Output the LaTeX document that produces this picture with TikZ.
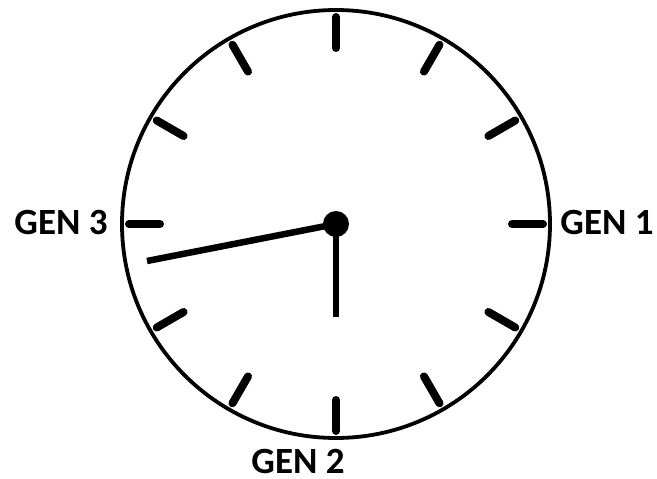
\documentclass[tikz,border=0pt]{standalone}
\usepackage{fontspec}
\setmainfont{Carlito}
\usepackage{tikz}
\usetikzlibrary{positioning}

\begin{document}
\begin{tikzpicture}[x=1pt, y=1pt, lbl/.style={font=\fontsize{37}{40}\selectfont\bfseries, inner sep=0pt},
  tick/.style={line width=8pt, line cap=round}, hand/.style={line width=6.5pt}]
\useasboundingbox (-336,-255) rectangle (321,224);
\coordinate (ctr) at (0,0);
\draw[line width=3.8pt] (ctr) circle (214);
\foreach \a in {0,30,...,330} \draw[tick] (\a:176) -- (\a:207);
\coordinate (hr) at (-189,-37);
\coordinate (mn) at (0,-93);
\draw[hand] (ctr) -- (hr);
\draw[hand] (ctr) -- (mn);
\fill (ctr) circle (13);
\node[lbl] (g1) at (271,2) {GEN 1};
\node[lbl] (g2) at (-38,-237) {GEN 2};
\node[lbl] (g3) at (-275,2) {GEN 3};
\end{tikzpicture}
\end{document}
